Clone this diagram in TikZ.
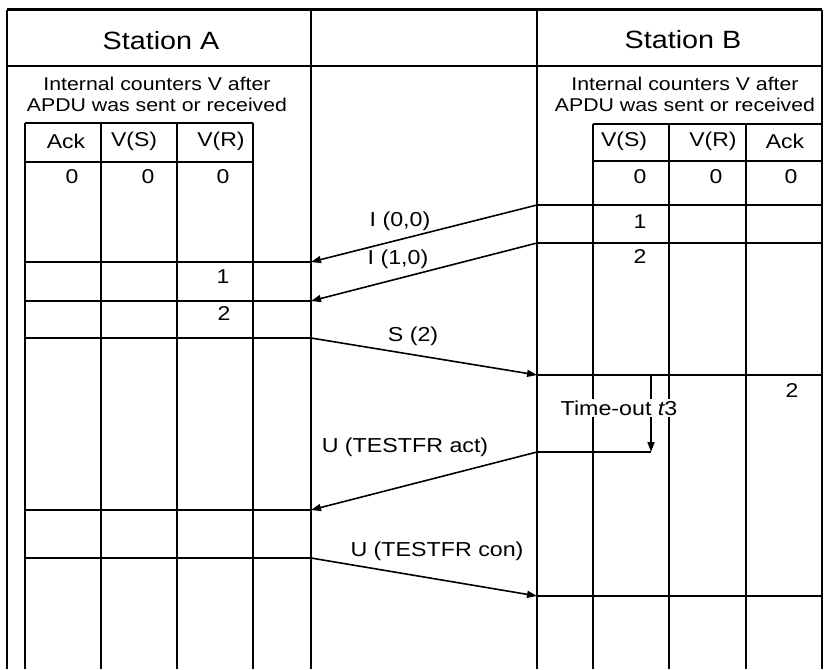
\documentclass[tikz,border=0pt]{standalone}
\usepackage{fontspec}
\setmainfont[FakeStretch=1.15]{Liberation Sans}
\usetikzlibrary{arrows.meta}
\begin{document}
\begin{tikzpicture}[x=1pt,y=-1pt,
  frame/.style={line width=1.9pt},
  thin/.style={line width=1.6pt},
  msg/.style={line width=1.6pt,-{Triangle[length=10pt,width=7pt]}},
  big/.style={font=\fontsize{25}{28}\selectfont},
  txt/.style={font=\fontsize{18.5}{21}\selectfont,align=center,inner sep=0pt},
  val/.style={font=\fontsize{20}{22}\selectfont,inner sep=0pt},
  lbl/.style={font=\fontsize{20.2}{22}\selectfont,inner sep=1pt}]
\useasboundingbox (0,0) rectangle (829,669);
% frame
\draw[line width=3pt] (7,10) -- (822,10);
\draw[frame] (7,66) -- (822,66);
\draw[frame] (7,10) -- (7,669);
\draw[frame] (311,10) -- (311,669);
\draw[frame] (537,10) -- (537,669);
\draw[frame] (822,10) -- (822,669);
% headings
\node[big] (sa) at (161,41) {Station A};
\node[big] (sb) at (683,40) {Station B};
\node[txt] (ia) at (157,94) {Internal counters V after\\APDU was sent or received};
\node[txt] (ib) at (685,94) {Internal counters V after\\APDU was sent or received};
% left table
\draw[thin] (25,123) -- (253,123);
\draw[thin] (25,162) -- (253,162);
\foreach \x in {25,101,177,253} \draw[thin] (\x,123) -- (\x,669);
\foreach \y in {262,301,338,510,558} \draw[thin] (25,\y) -- (311,\y);
\node[val] (ha1) at (66,141) {Ack};
\node[val] (ha2) at (134,141) {V(S)};
\node[val] (ha3) at (221,141) {V(R)};
\node[val] (a01) at (72,177) {0};
\node[val] (a02) at (148,177) {0};
\node[val] (a03) at (223,177) {0};
\node[val] (a1) at (223,277) {1};
\node[val] (a2) at (224,314) {2};
% right table
\draw[thin] (593,124) -- (822,124);
\draw[thin] (593,161) -- (822,161);
\foreach \x in {593,669,746} \draw[thin] (\x,124) -- (\x,669);
\foreach \y in {205,243,375,596} \draw[thin] (537,\y) -- (822,\y);
\draw[thin] (537,452) -- (651,452);
\node[val] (hb1) at (624,141) {V(S)};
\node[val] (hb2) at (713,141) {V(R)};
\node[val] (hb3) at (785,141) {Ack};
\node[val] (b01) at (640,177) {0};
\node[val] (b02) at (716,177) {0};
\node[val] (b03) at (791,177) {0};
\node[val] (b1) at (640,222) {1};
\node[val] (b2) at (640,257) {2};
\node[val] (b3) at (792,391) {2};
% message end points
\coordinate (r1) at (537,205); \coordinate (l1) at (311,262);
\coordinate (r2) at (537,243); \coordinate (l2) at (311,301);
\coordinate (l3) at (311,338); \coordinate (r3) at (537,375);
\coordinate (r4) at (537,452); \coordinate (l4) at (311,510);
\coordinate (l5) at (311,558); \coordinate (r5) at (537,596);
\coordinate (t0) at (651,375); \coordinate (t1) at (651,452);
\draw[msg] (r1) -- (l1);
\draw[msg] (r2) -- (l2);
\draw[msg] (l3) -- (r3);
\draw[msg] (r4) -- (l4);
\draw[msg] (l5) -- (r5);
\draw[msg] (t0) -- (t1);
\node[lbl] (m1) at (400,221) {I (0,0)};
\node[lbl] (m2) at (398,259) {I (1,0)};
\node[lbl] (m3) at (413,336) {S (2)};
\node[lbl] (m4) at (405,447) {U (TESTFR act)};
\node[lbl] (m5) at (437,551) {U (TESTFR con)};
\node[lbl,fill=white,inner sep=2pt] (to) at (619,408) {Time-out {\itshape t}3};
\end{tikzpicture}
\end{document}
